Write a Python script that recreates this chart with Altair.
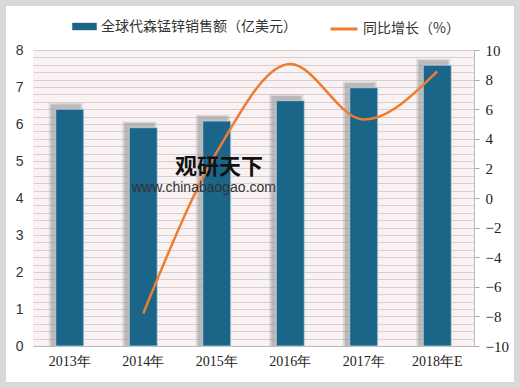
import altair as alt
import pandas as pd

years = ["2013年", "2014年", "2015年", "2016年", "2017年", "2018年E"]
sales = [6.4, 5.9, 6.08, 6.63, 6.98, 7.59]
growth = [None, -7.8, 3.1, 9.05, 5.3, 8.55]
left_ticks = [round(i * 0.2, 1) for i in range(41)]
right_ticks = [-10, -8, -6, -4, -2, 0, 2, 4, 6, 8, 10]
name_bar = "全球代森锰锌销售额（亿美元）"
name_line = "同比增长（%）"

W, H = 441, 296

df = pd.DataFrame({"year": years, "sales": sales, "growth": growth})
df["s1"] = name_bar
df["s2"] = name_line

base = alt.Chart(df)
xenc = alt.X("year:N", sort=years, title=None,
             axis=alt.Axis(labelAngle=0, labelFont="Liberation Serif", labelFontSize=14,
                           labelColor="#222", ticks=False, domainColor="#bbbbbb",
                           labelPadding=8))

frame = alt.Chart(pd.DataFrame({"k": [0]})).mark_rect(
    fill="white", fillOpacity=0, stroke="#d9d9d9", strokeWidth=12
).encode(x=alt.value(-33), x2=alt.value(W + 46), y=alt.value(-50), y2=alt.value(H + 42))

shadow1 = base.mark_bar(size=34, color="#9a9a9a", opacity=0.3, xOffset=-4).transform_calculate(
    sh="datum.sales + 0.17"
).encode(x=xenc, y=alt.Y("sh:Q", scale=alt.Scale(domain=[0, 8]), axis=None))
shadow2 = base.mark_bar(size=30, color="#808080", opacity=0.35, xOffset=-4).transform_calculate(
    sh="datum.sales + 0.13"
).encode(x=xenc, y=alt.Y("sh:Q", scale=alt.Scale(domain=[0, 8]), axis=None))

bars = base.mark_bar(size=28, stroke="#bcd6e3", strokeWidth=0.8).encode(
    x=xenc,
    y=alt.Y("sales:Q", title=None, scale=alt.Scale(domain=[0, 8]),
            axis=alt.Axis(values=left_ticks, grid=True,
                          labelExpr="abs(datum.value - round(datum.value)) < 0.01 ? format(datum.value, 'd') : ''",
                          labelOverlap=False, ticks=False, domain=False,
                          labelFont="Liberation Sans", labelFontSize=14, labelColor="#333",
                          labelPadding=10, gridColor="#d4d0d0", gridWidth=1)),
    fill=alt.Fill("s1:N", scale=alt.Scale(domain=[name_bar], range=["#1b6588"]),
                  legend=alt.Legend(title=None, orient="none", legendX=39, legendY=-36,
                                    symbolType="M-1,-0.3L1,-0.3L1,0.3L-1,0.3Z",
                                    symbolSize=600, symbolStrokeWidth=0, labelLimit=0,
                                    labelFont="Noto Sans CJK SC", labelFontSize=14,
                                    labelColor="#333")),
)

line = base.mark_line(strokeWidth=2.5, interpolate="monotone").encode(
    x=xenc,
    y=alt.Y("growth:Q", title=None, scale=alt.Scale(domain=[-10, 10]),
            axis=alt.Axis(orient="right", values=right_ticks, grid=False,
                          labelFont="Liberation Serif", labelFontSize=15, labelColor="#222",
                          tickColor="#aaaaaa", tickSize=5, domainColor="#bbbbbb",
                          labelPadding=6)),
    stroke=alt.Stroke("s2:N", scale=alt.Scale(domain=[name_line], range=["#ED7D31"]),
                      legend=alt.Legend(title=None, orient="none", legendX=296, legendY=-36,
                                        symbolType="stroke", symbolSize=729,
                                        symbolStrokeWidth=3, labelLimit=0,
                                        labelFont="Noto Sans CJK SC", labelFontSize=14,
                                        labelColor="#333")),
)

wm1 = alt.Chart(pd.DataFrame({"t": ["观研天下"]})).mark_text(
    font="Noto Sans CJK SC", fontSize=22, fontWeight="bold", color="#111", align="left"
).encode(text="t:N", x=alt.value(142), y=alt.value(117))
wm2 = alt.Chart(pd.DataFrame({"t": ["www.chinabaogao.com"]})).mark_text(
    font="Liberation Sans", fontSize=14, color="#333", align="left"
).encode(text="t:N", x=alt.value(99), y=alt.value(138))

chart = alt.layer(shadow1, shadow2, bars, line, wm1, wm2, frame).resolve_scale(y="independent").properties(
    width=W, height=H,
    autosize=alt.AutoSizeParams(type="none"),
    padding={"left": 33, "top": 50, "right": 46, "bottom": 42},
    background="white",
).configure_view(fill="#faf2f2", stroke=None)

chart.save("out.html", embed_options={"renderer": "svg", "actions": False})
